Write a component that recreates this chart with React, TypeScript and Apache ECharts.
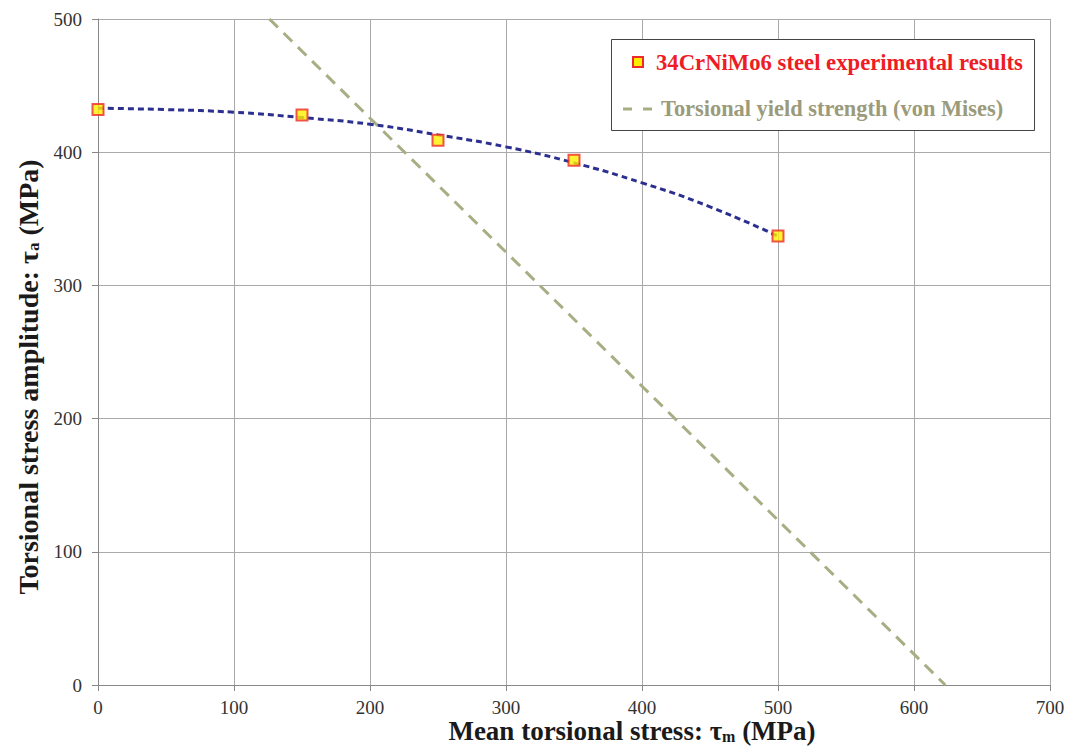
import React, { useEffect, useRef } from "react";
import * as echarts from "echarts";

const experimentalX = [0, 150, 250, 350, 500];
const experimentalY = [432, 428, 409, 394, 337];

const trendX = [0, 50, 100, 150, 200, 250, 300, 350, 400, 450, 500];
const trendY = [433, 432, 430, 426, 421, 413, 404, 392, 377, 359, 337];

const yieldX = [126, 623];
const yieldY = [500, 0];

const xTicks = [0, 100, 200, 300, 400, 500, 600, 700];
const yTicks = [0, 100, 200, 300, 400, 500];

const legendNames = ["34CrNiMo6 steel experimental results", "Torsional yield strength (von Mises)"];
const xTitle = ["Mean torsional stress: τ", "m", " (MPa)"];
const yTitle = ["Torsional stress amplitude: τ", "a", " (MPa)"];

const SERIF = "'Liberation Serif', 'Times New Roman', serif";

export default function App() {
  const ref = useRef<HTMLDivElement>(null);
  useEffect(() => {
    if (!ref.current) return;
    const chart = echarts.init(ref.current, undefined, { renderer: "svg" });
    const zip = (xs: number[], ys: number[]) => xs.map((x, i) => [x, ys[i]]);
    const titleRich = (size: number, sub: number, lh: number) => ({
      a: { fontFamily: SERIF, fontSize: size, fontWeight: "bold", fill: "#1a1a1a", lineHeight: lh },
      s: { fontFamily: SERIF, fontSize: sub, fontWeight: "bold", fill: "#1a1a1a", lineHeight: lh, padding: [size * 0.4, 0, 0, 0] },
    });
    const redCol = "#ee1c25";
    const oliveText = "#9b9b7b";
    const oliveLine = "#a8ae84";
    chart.setOption({
      animation: false,
      backgroundColor: "#ffffff",
      grid: { left: 98, right: 19, top: 19, bottom: 61, containLabel: false, outerBoundsMode: "none" },
      xAxis: {
        type: "value",
        min: 0,
        max: 700,
        interval: 100,
        axisLine: { show: true, lineStyle: { color: "#888", width: 1 } },
        axisTick: { show: true, length: 6, lineStyle: { color: "#888" } },
        axisLabel: { fontFamily: SERIF, fontSize: 19, lineHeight: 17, color: "#333", margin: 14, formatter: (v: number) => (xTicks.includes(v) ? String(v) : "") },
        splitLine: { show: true, lineStyle: { color: "#aaa", width: 1 } },
      },
      yAxis: {
        type: "value",
        min: 0,
        max: 500,
        interval: 100,
        axisLine: { show: true, lineStyle: { color: "#888", width: 1 } },
        axisTick: { show: true, length: 6, lineStyle: { color: "#888" } },
        axisLabel: { fontFamily: SERIF, fontSize: 19, color: "#333", margin: 16, formatter: (v: number) => (yTicks.includes(v) ? String(v) : "") },
        splitLine: { show: true, lineStyle: { color: "#aaa", width: 1 } },
      },
      graphic: [
        {
          type: "text",
          x: 632,
          y: 731,
          z: 10,
          style: {
            text: `{a|${xTitle[0]}}{s|${xTitle[1]}}{a|${xTitle[2]}}`,
            rich: titleRich(27, 16, 22),
            align: "center",
            verticalAlign: "middle",
          },
        },
        {
          type: "text",
          x: 28,
          y: 377,
          rotation: Math.PI / 2,
          z: 10,
          style: {
            text: `{a|${yTitle[0]}}{s|${yTitle[1]}}{a|${yTitle[2]}}`,
            rich: titleRich(28, 17, 28),
            align: "center",
            verticalAlign: "middle",
          },
        },
        {
          type: "rect",
          z: 10,
          shape: { x: 611.5, y: 39.5, width: 423, height: 91 },
          style: { fill: "#fff", stroke: "#444", lineWidth: 1 },
        },
        {
          type: "rect",
          z: 11,
          shape: { x: 633, y: 57, width: 10, height: 10 },
          style: { fill: "#ffee00", stroke: "#ee2a2a", lineWidth: 2 },
        },
        {
          type: "line",
          z: 11,
          shape: { x1: 623, y1: 109, x2: 652, y2: 109 },
          style: { stroke: oliveLine, lineWidth: 3, lineDash: [9, 11] },
        },
        {
          type: "text",
          z: 11,
          x: 656,
          y: 62,
          style: { text: legendNames[0], fill: redCol, font: `bold 22.7px ${SERIF}`, align: "left", verticalAlign: "middle" },
        },
        {
          type: "text",
          z: 11,
          x: 661,
          y: 108,
          style: { text: legendNames[1], fill: oliveText, font: `bold 22.4px ${SERIF}`, align: "left", verticalAlign: "middle" },
        },
      ],
      series: [
        {
          name: "trend",
          type: "line",
          data: zip(trendX, trendY),
          smooth: true,
          showSymbol: false,
          symbol: "none",
          lineStyle: { color: "#2b2f8f", width: 3, type: [6, 4] },
          z: 2,
        },
        {
          name: legendNames[1],
          type: "line",
          data: zip(yieldX, yieldY),
          showSymbol: false,
          symbol: "none",
          itemStyle: { color: oliveLine },
          lineStyle: { color: oliveLine, width: 3, type: [12, 8] },
          z: 1,
        },
        {
          name: legendNames[0],
          type: "scatter",
          data: zip(experimentalX, experimentalY),
          symbol: "rect",
          symbolSize: 11,
          itemStyle: { color: "#ffee00", borderColor: "#ee2a2a", borderWidth: 2 },
          z: 5,
        },
      ],
    });
    return () => chart.dispose();
  }, []);
  return <div ref={ref} style={{ width: 1069, height: 746, position: "absolute", left: 0, top: 0 }} />;
}
